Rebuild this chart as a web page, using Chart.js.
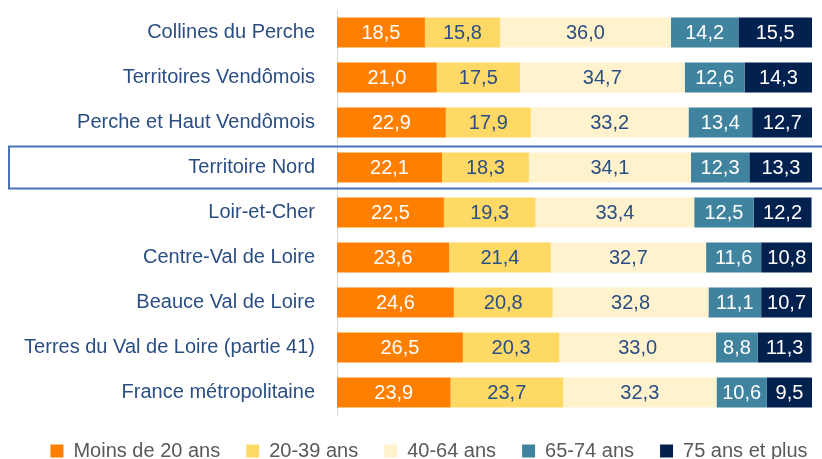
<!DOCTYPE html>
<html>
<head>
<meta charset="utf-8">
<script src="https://cdn.jsdelivr.net/npm/chart.js@4.4.1/dist/chart.umd.min.js"></script>
<style>
  html, body { margin: 0; padding: 0; background: #fff; overflow: hidden; }
  #wrap { width: 822px; height: 471px; position: relative; }
</style>
</head>
<body>
<div id="wrap"><canvas id="graficoAges"></canvas></div>
<script>
// Territoires (de haut en bas)
const territoires = [
    'Collines du Perche',
    'Territoires Vendômois',
    'Perche et Haut Vendômois',
    'Territoire Nord',
    'Loir-et-Cher',
    'Centre-Val de Loire',
    'Beauce Val de Loire',
    'Terres du Val de Loire (partie 41)',
    'France métropolitaine'
];

// Part de chaque tranche d'âge (%)
const moins20 = [18.5, 21.0, 22.9, 22.1, 22.5, 23.6, 24.6, 26.5, 23.9];
const de20a39 = [15.8, 17.5, 17.9, 18.3, 19.3, 21.4, 20.8, 20.3, 23.7];
const de40a64 = [36.0, 34.7, 33.2, 34.1, 33.4, 32.7, 32.8, 33.0, 32.3];
const de65a74 = [14.2, 12.6, 13.4, 12.3, 12.5, 11.6, 11.1, 8.8, 10.6];
const plus75  = [15.5, 14.3, 12.7, 13.3, 12.2, 10.8, 10.7, 11.3, 9.5];

const territoireMisEnAvant = 'Territoire Nord';

const FONT = "'Liberation Sans', Arial, sans-serif";
const BLEU_TEXTE = '#2A4E84';

// étiquettes de valeur dans les barres
const etiquettesPlugin = {
    id: 'etiquettes',
    afterDatasetsDraw(chart) {
        const ctx = chart.ctx;
        ctx.save();
        ctx.font = '20px ' + FONT;
        ctx.textAlign = 'center';
        ctx.textBaseline = 'middle';
        chart.data.datasets.forEach((ds, i) => {
            const meta = chart.getDatasetMeta(i);
            meta.data.forEach((bar, j) => {
                const cx = (bar.x + bar.base) / 2;
                ctx.fillStyle = ds.couleurTexte;
                ctx.fillText(ds.data[j].toFixed(1).replace('.', ','), cx, bar.y + 1);
            });
        });
        ctx.restore();
    }
};

// cadre autour du territoire mis en avant + légende décalée comme dans Excel
const cadrePlugin = {
    id: 'cadre',
    afterLayout(chart) {
        chart.legend.left += 23;
        chart.legend.right += 23;
    },
    afterDraw(chart) {
        const y = chart.scales.y.getPixelForValue(territoires.indexOf(territoireMisEnAvant));
        const ctx = chart.ctx;
        ctx.save();
        ctx.strokeStyle = '#4A72B8';
        ctx.lineWidth = 2;
        ctx.strokeRect(9, y - 21, 830, 42);
        ctx.restore();
    }
};

new Chart(document.getElementById('graficoAges').getContext('2d'), {
    type: 'bar',
    data: {
        labels: territoires,
        datasets: [
            { label: 'Moins de 20 ans', data: moins20, backgroundColor: '#FF8000', couleurTexte: '#FFFFFF' },
            { label: '20-39 ans', data: de20a39, backgroundColor: '#FFD966', couleurTexte: BLEU_TEXTE },
            { label: '40-64 ans', data: de40a64, backgroundColor: '#FFF2CC', couleurTexte: BLEU_TEXTE },
            { label: '65-74 ans', data: de65a74, backgroundColor: '#40839F', couleurTexte: '#FFFFFF' },
            { label: '75 ans et plus', data: plus75, backgroundColor: '#02214F', couleurTexte: '#FFFFFF' }
        ]
    },
    options: {
        indexAxis: 'y',
        responsive: true,
        maintainAspectRatio: false,
        animation: false,
        datasets: {
            bar: { categoryPercentage: 0.67, barPercentage: 1, borderWidth: 0 }
        },
        layout: { padding: { top: 10, right: 10, left: 0, bottom: 0 } },
        scales: {
            x: { stacked: true, min: 0, max: 100, display: false },
            y: {
                stacked: true,
                grid: { display: false, drawTicks: false },
                border: { display: true, color: '#D9D9D9', width: 1 },
                ticks: { color: BLEU_TEXTE, font: { family: FONT, size: 20 }, padding: 22 },
                afterFit(axis) {
                    axis.width = 337;
                    axis.paddingTop = 0;
                    axis.paddingBottom = 0;
                }
            }
        },
        plugins: {
            legend: {
                position: 'bottom',
                labels: {
                    color: '#595959',
                    font: { family: FONT, size: 20 },
                    boxWidth: 13,
                    boxHeight: 13,
                    padding: 26
                }
            },
            tooltip: { enabled: false }
        }
    },
    plugins: [etiquettesPlugin, cadrePlugin]
});
</script>
</body>
</html>
